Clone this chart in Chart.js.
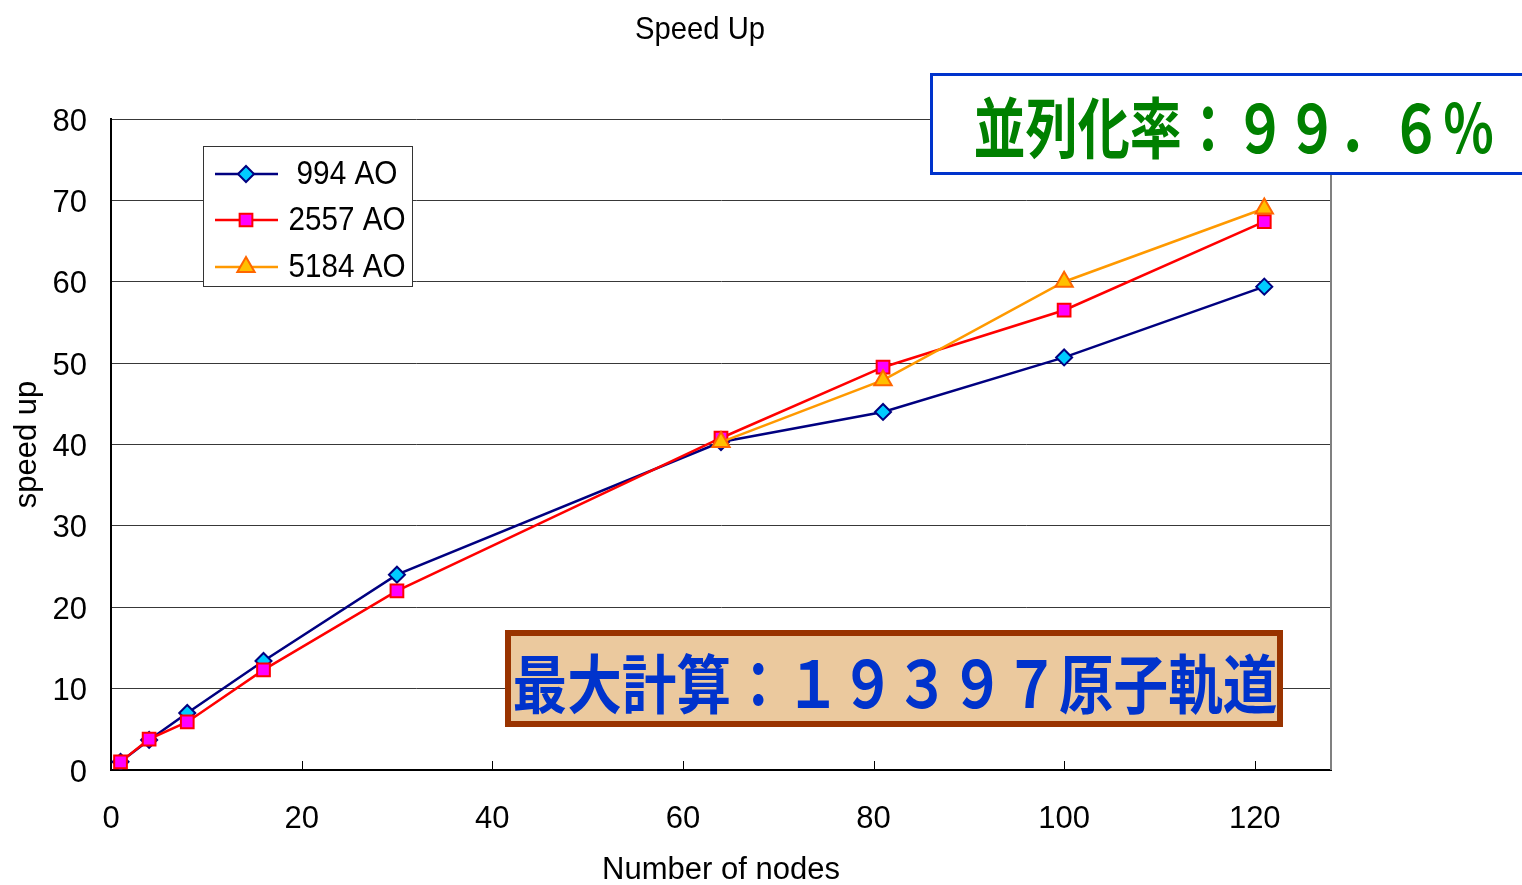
<!DOCTYPE html>
<html>
<head>
<meta charset="utf-8">
<script src="https://cdn.jsdelivr.net/npm/chart.js@4"></script>
<style>
  html, body { margin: 0; padding: 0; background: #fff; }
  #wrap { width: 1522px; height: 885px; }
</style>
</head>
<body>
<div id="wrap"><canvas id="speedup-chart"></canvas></div>
<script>
// values
const nodes = [1, 4, 8, 16, 30, 64, 81, 100, 121];
const nodesLarge = [64, 81, 100, 121];
const speedup994 = [1.0, 3.7, 7.0, 13.4, 24.0, 40.3, 44.0, 50.7, 59.4];
const speedup2557 = [1.0, 3.8, 5.9, 12.3, 22.0, 40.8, 49.5, 56.5, 67.4];
const speedup5184 = [40.3, 47.9, 60.0, 69.0];
const seriesLabels = ['994 AO', '2557 AO', '5184 AO'];
const xTicks = [0, 20, 40, 60, 80, 100, 120];
const chartTitle = 'Speed Up';
const xTitle = 'Number of nodes';
const yTitle = 'speed up';
const noteRate = '並列化率：９９．６％';
const noteMax = '最大計算：１９３９７原子軌道';

const FONT = '"Liberation Sans", Arial, sans-serif';
const CJK = '"Noto Sans CJK JP", "Noto Sans CJK SC", sans-serif';

const toPoints = (xs, ys) => xs.map((x, i) => ({ x, y: ys[i] }));

// draws text squeezed horizontally so it fills targetW
function fitText(ctx, text, cx, cy, font, targetW, color) {
  ctx.save();
  ctx.font = font;
  const w = ctx.measureText(text).width;
  ctx.translate(cx, cy);
  ctx.scale(targetW / w, 1);
  ctx.textAlign = 'center';
  ctx.textBaseline = 'middle';
  ctx.fillStyle = color;
  ctx.fillText(text, 0, 0);
  ctx.restore();
}

const overlay = {
  id: 'overlay',
  afterDraw(chart) {
    const { ctx, chartArea: a, scales } = chart;
    ctx.save();

    // right frame edge
    ctx.strokeStyle = '#808080';
    ctx.lineWidth = 2;
    ctx.beginPath();
    ctx.moveTo(a.right, a.top);
    ctx.lineTo(a.right, a.bottom);
    ctx.stroke();

    // inner tick marks on x axis
    ctx.strokeStyle = '#000';
    ctx.lineWidth = 1;
    xTicks.slice(1).forEach(v => {
      const x = Math.round(scales.x.getPixelForValue(v)) + 0.5;
      ctx.beginPath();
      ctx.moveTo(x, a.bottom);
      ctx.lineTo(x, a.bottom - 9);
      ctx.stroke();
    });

    // title
    fitText(ctx, chartTitle, 700, 30, '32px ' + FONT, 130, '#000');

    // legend
    ctx.fillStyle = '#fff';
    ctx.fillRect(203.5, 146.5, 209, 140);
    ctx.strokeStyle = '#333';
    ctx.lineWidth = 1;
    ctx.strokeRect(203.5, 146.5, 209, 140);
    const rows = [174, 220, 267];
    chart.data.datasets.forEach((ds, i) => {
      const y = rows[i];
      ctx.strokeStyle = ds.borderColor;
      ctx.lineWidth = ds.borderWidth;
      ctx.beginPath();
      ctx.moveTo(215, y);
      ctx.lineTo(278, y);
      ctx.stroke();
      ctx.save();
      ctx.fillStyle = ds.pointBackgroundColor;
      ctx.strokeStyle = ds.pointBorderColor;
      ctx.lineWidth = ds.pointBorderWidth;
      Chart.helpers.drawPoint(ctx, {
        pointStyle: ds.pointStyle,
        radius: ds.pointRadius,
        borderWidth: ds.pointBorderWidth,
        rotation: 0
      }, 246, y);
      ctx.restore();
      const tw = i === 0 ? 101 : 117;
      fitText(ctx, ds.label, 347, y + 1, '33px ' + FONT, tw, '#000');
    });

    // parallelisation rate box
    ctx.fillStyle = '#fff';
    ctx.fillRect(931, 74, 600, 100);
    ctx.strokeStyle = '#0033cc';
    ctx.lineWidth = 3;
    ctx.strokeRect(931.5, 74.5, 640, 99);
    fitText(ctx, noteRate, 1234, 128, 'bold 66px ' + CJK, 521, '#008000');

    // largest calculation box
    ctx.fillStyle = '#ebc99e';
    ctx.fillRect(508, 633, 772, 91);
    ctx.strokeStyle = '#993300';
    ctx.lineWidth = 6;
    ctx.strokeRect(508, 633, 772, 91);
    fitText(ctx, noteMax, 895, 684, 'bold 64px ' + CJK, 765, '#0033cc');

    ctx.restore();
  }
};

new Chart(document.getElementById('speedup-chart'), {
  type: 'line',
  data: {
    datasets: [
      {
        label: seriesLabels[0],
        data: toPoints(nodes, speedup994),
        borderColor: '#000080',
        borderWidth: 2.5,
        pointStyle: 'rectRot',
        pointRadius: 8,
        pointBackgroundColor: '#00ccff',
        pointBorderColor: '#000080',
        pointBorderWidth: 2,
        order: 2,
      },
      {
        label: seriesLabels[1],
        data: toPoints(nodes, speedup2557),
        borderColor: '#ff0000',
        borderWidth: 2.5,
        pointStyle: 'rect',
        pointRadius: 9,
        pointBackgroundColor: '#ff00ff',
        pointBorderColor: '#ff0000',
        pointBorderWidth: 2,
        order: 1,
      },
      {
        label: seriesLabels[2],
        data: toPoints(nodesLarge, speedup5184),
        borderColor: '#ff9900',
        borderWidth: 2.5,
        pointStyle: 'triangle',
        pointRadius: 10,
        pointBackgroundColor: '#ffc000',
        pointBorderColor: '#ff6600',
        pointBorderWidth: 2,
        order: 0,
      },
    ],
  },
  options: {
    responsive: true,
    maintainAspectRatio: false,
    animation: false,
    layout: { padding: { top: 119, right: 191, left: 0, bottom: 0 } },
    plugins: { legend: { display: false }, tooltip: { enabled: false }, title: { display: false } },
    elements: { line: { tension: 0 } },
    scales: {
      x: {
        type: 'linear',
        min: 0,
        max: 128,
        afterFit: s => { s.height = 115; },
        afterBuildTicks: s => { s.ticks = xTicks.map(v => ({ value: v })); },
        grid: { display: false, drawTicks: false },
        border: { display: true, color: '#000', width: 2 },
        ticks: { color: '#000', font: { family: FONT, size: 31 }, padding: 31, maxRotation: 0 },
        title: { display: true, text: xTitle, color: '#000', font: { family: FONT, size: 31 }, padding: { top: 0, bottom: -4 } },
      },
      y: {
        min: 0,
        max: 80,
        afterFit: s => { s.width = 111; },
        grid: { color: '#383838', lineWidth: 1, drawTicks: false },
        border: { display: true, color: '#000', width: 2 },
        ticks: { stepSize: 10, color: '#000', font: { family: FONT, size: 31 }, padding: 24, labelOffset: 3 },
        title: { display: true, text: yTitle, color: '#000', font: { family: FONT, size: 31 }, padding: { top: 9, bottom: 0 } },
      },
    },
  },
  plugins: [overlay],
});
</script>
</body>
</html>
